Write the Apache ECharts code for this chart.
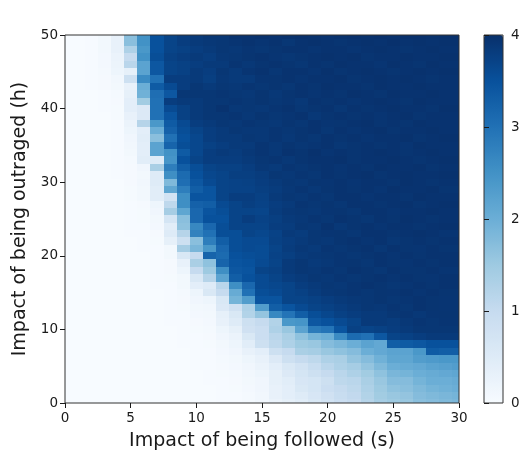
<!DOCTYPE html>
<html>
<head>
<meta charset="utf-8">
<style>html,body{margin:0;padding:0;background:#fff}#c{width:522px;height:452px}</style>
<script src="https://cdn.jsdelivr.net/npm/echarts@6/dist/echarts.min.js"></script>
</head>
<body>
<div id="c"></div>
<script>
// Estimated cell values; each list holds x = 0..30 for one h, from h = 50 down to h = 0.
const h50=[0,0,.02,.1,.3,1.7,2.5,3.5,3.7,3.8,3.85,3.9,3.9,3.95,3.95,3.97,3.95,3.97,3.98,3.97,3.95,3.97,3.98,3.97,3.98,3.97,3.98,3.98,3.97,3.98,3.98];
const h49=[0,0,.02,.1,.3,1.7,2.5,3.5,3.7,3.8,3.85,3.88,3.9,3.92,3.95,3.92,3.95,3.9,3.95,3.97,3.95,3.93,3.95,3.97,3.95,3.98,3.95,3.97,3.95,3.97,3.97];
const h48=[0,0,.02,.1,.3,1.3,2.4,3.5,3.7,3.75,3.8,3.85,3.9,3.88,3.92,3.9,3.93,3.95,3.95,3.92,3.95,3.95,3.92,3.95,3.97,3.95,3.93,3.95,3.97,3.95,3.95];
const h47=[0,0,.03,.08,.25,1,2.5,3.55,3.75,3.8,3.85,3.8,3.88,3.9,3.93,3.95,3.92,3.9,3.93,3.95,3.97,3.95,3.97,3.93,3.95,3.95,3.97,3.95,3.95,3.97,3.97];
const h46=[0,0,.03,.08,.22,1.15,2.2,3.4,3.7,3.75,3.8,3.85,3.85,3.92,3.88,3.93,3.95,3.93,3.9,3.95,3.93,3.97,3.95,3.95,3.92,3.97,3.95,3.93,3.97,3.95,3.95];
const h45=[0,0,.02,.06,.2,.35,2.2,3.4,3.7,3.75,3.85,3.8,3.9,3.85,3.92,3.95,3.9,3.95,3.95,3.92,3.97,3.93,3.95,3.97,3.95,3.93,3.95,3.97,3.95,3.97,3.97];
const h44=[0,0,.02,.05,.12,.85,2.6,3,3.8,3.8,3.85,3.78,3.88,3.85,3.85,3.92,3.93,3.95,3.92,3.95,3.95,3.97,3.93,3.95,3.97,3.95,3.97,3.95,3.93,3.95,3.95];
const h43=[0,0,.02,.05,.1,.3,2,3.35,3.6,3.8,3.9,3.85,3.9,3.88,3.92,3.9,3.93,3.9,3.95,3.93,3.97,3.95,3.95,3.93,3.97,3.95,3.95,3.97,3.95,3.95,3.95];
const h42=[0,0,.01,.03,.06,.35,1.95,3.05,3.4,3.9,3.9,3.9,3.92,3.9,3.88,3.93,3.88,3.93,3.95,3.92,3.95,3.93,3.97,3.95,3.93,3.97,3.95,3.95,3.97,3.95,3.95];
const h41=[0,0,.01,.02,.05,.4,1.45,3,3.8,3.85,3.85,3.9,3.9,3.92,3.9,3.93,3.9,3.92,3.88,3.95,3.93,3.95,3.92,3.95,3.97,3.95,3.93,3.97,3.95,3.95,3.95];
const h40=[0,0,.01,.02,.04,.4,.55,3,3.6,3.75,3.85,3.9,3.95,3.88,3.9,3.88,3.92,3.95,3.9,3.93,3.95,3.9,3.95,3.93,3.95,3.97,3.95,3.95,3.93,3.97,3.97];
const h39=[0,0,0,.01,.04,.3,.55,3,3.45,3.75,3.85,3.9,3.9,3.92,3.88,3.93,3.9,3.92,3.95,3.88,3.93,3.95,3.93,3.95,3.92,3.95,3.97,3.93,3.95,3.95,3.95];
const h38=[0,0,0,.01,.03,.25,1.2,2.4,3.35,3.6,3.8,3.85,3.9,3.88,3.92,3.9,3.88,3.93,3.9,3.95,3.92,3.93,3.95,3.97,3.93,3.95,3.93,3.97,3.95,3.95,3.95];
const h37=[0,0,0,.01,.03,.2,.4,2,3.25,3.55,3.7,3.8,3.85,3.9,3.88,3.88,3.92,3.9,3.93,3.95,3.9,3.95,3.92,3.95,3.97,3.93,3.95,3.95,3.97,3.95,3.95];
const h36=[0,0,0,.01,.03,.15,.45,1.7,3,3.5,3.65,3.8,3.85,3.85,3.9,3.88,3.92,3.88,3.93,3.9,3.95,3.93,3.95,3.92,3.95,3.95,3.97,3.93,3.95,3.97,3.97];
const h35=[0,0,0,0,.02,.12,.4,2.2,3.2,3.55,3.65,3.75,3.8,3.85,3.85,3.92,3.88,3.93,3.9,3.92,3.95,3.9,3.93,3.95,3.93,3.95,3.92,3.97,3.95,3.95,3.95];
const h34=[0,0,0,0,.02,.1,.4,2.2,2.5,3.35,3.65,3.8,3.85,3.82,3.88,3.92,3.88,3.95,3.93,3.97,3.92,3.95,3.93,3.95,3.97,3.95,3.93,3.95,3.97,3.95,3.95];
const h33=[0,0,0,0,.02,.06,.45,.5,2.45,3.5,3.7,3.8,3.8,3.8,3.85,3.9,3.92,3.88,3.93,3.95,3.95,3.97,3.93,3.95,3.95,3.97,3.95,3.93,3.95,3.97,3.97];
const h32=[0,0,0,0,.02,.05,.15,1.35,2.8,3.3,3.55,3.7,3.75,3.75,3.8,3.88,3.85,3.92,3.9,3.93,3.95,3.92,3.95,3.93,3.97,3.95,3.95,3.97,3.93,3.95,3.95];
const h31=[0,0,0,0,.02,.05,.1,.5,2.55,3.1,3.5,3.65,3.7,3.78,3.78,3.82,3.9,3.88,3.92,3.9,3.95,3.93,3.95,3.97,3.93,3.95,3.97,3.95,3.95,3.97,3.97];
const h30=[0,0,0,0,.01,.05,.12,.5,1.8,3.05,3.4,3.6,3.7,3.72,3.75,3.8,3.85,3.9,3.88,3.93,3.92,3.95,3.92,3.95,3.95,3.93,3.97,3.95,3.93,3.95,3.95];
const h29=[0,0,0,0,.01,.04,.1,.45,2.15,2.8,3.3,3.45,3.7,3.72,3.72,3.78,3.82,3.88,3.92,3.88,3.93,3.95,3.93,3.95,3.92,3.97,3.95,3.95,3.97,3.93,3.93];
const h28=[0,0,0,0,.01,.04,.1,.45,.75,2.55,3.45,3.45,3.7,3.8,3.8,3.75,3.85,3.9,3.88,3.92,3.9,3.95,3.95,3.92,3.95,3.95,3.93,3.97,3.95,3.95,3.95];
const h27=[0,0,0,0,.01,.03,.05,.2,1.1,2.55,3.25,3.3,3.6,3.7,3.78,3.72,3.8,3.85,3.92,3.9,3.93,3.9,3.95,3.95,3.93,3.95,3.97,3.93,3.95,3.97,3.97];
const h26=[0,0,0,0,0,.03,.04,.15,1.4,2.15,3.15,3.45,3.55,3.7,3.7,3.68,3.82,3.88,3.9,3.88,3.92,3.93,3.9,3.95,3.95,3.92,3.95,3.95,3.97,3.95,3.95];
const h25=[0,0,0,0,0,.02,.04,.1,.7,1.7,3.15,3.5,3.5,3.7,3.8,3.72,3.78,3.85,3.88,3.92,3.9,3.95,3.93,3.9,3.95,3.93,3.97,3.95,3.93,3.95,3.95];
const h24=[0,0,0,0,0,.02,.03,.08,.45,1.65,2.65,3.15,3.55,3.7,3.7,3.7,3.8,3.82,3.9,3.88,3.95,3.88,3.93,3.95,3.92,3.95,3.95,3.93,3.95,3.97,3.97];
const h23=[0,0,0,0,0,.02,.03,.05,.5,1.2,2.75,3,3.55,3.55,3.7,3.65,3.72,3.85,3.82,3.9,3.92,3.93,3.9,3.95,3.95,3.93,3.95,3.97,3.95,3.92,3.92];
const h22=[0,0,0,0,0,.01,.02,.04,.35,.85,1.7,2.8,3.3,3.55,3.6,3.6,3.75,3.8,3.85,3.9,3.88,3.93,3.95,3.92,3.95,3.9,3.93,3.95,3.93,3.95,3.95];
const h21=[0,0,0,0,0,.01,.02,.03,.1,1.4,1.85,2.4,3.15,3.55,3.6,3.58,3.7,3.82,3.88,3.85,3.92,3.9,3.93,3.95,3.9,3.95,3.93,3.92,3.95,3.93,3.93];
const h20=[0,0,0,0,0,0,.01,.03,.1,.6,1,3.2,3.1,3.5,3.55,3.58,3.72,3.78,3.85,3.88,3.9,3.92,3.9,3.93,3.95,3.92,3.95,3.93,3.95,3.95,3.95];
const h19=[0,0,0,0,0,0,.01,.02,.05,.3,1.35,1.65,3.2,3.45,3.5,3.6,3.7,3.85,3.9,3.85,3.88,3.92,3.93,3.9,3.95,3.93,3.92,3.95,3.93,3.95,3.95];
const h18=[0,0,0,0,0,0,.01,.02,.05,.2,1,1.5,2.55,3.4,3.45,3.7,3.75,3.85,3.9,3.88,3.92,3.9,3.95,3.93,3.9,3.95,3.93,3.93,3.95,3.92,3.92];
const h17=[0,0,0,0,0,0,.01,.02,.04,.1,.6,1.2,2.2,3.3,3.5,3.6,3.7,3.8,3.85,3.9,3.88,3.92,3.9,3.93,3.95,3.92,3.95,3.93,3.92,3.95,3.95];
const h16=[0,0,0,0,0,0,.01,.02,.03,.1,.4,.5,1.15,2.55,3.15,3.6,3.65,3.7,3.8,3.85,3.9,3.88,3.92,3.95,3.93,3.9,3.92,3.95,3.93,3.95,3.95];
const h15=[0,0,0,0,0,0,0,.01,.03,.06,.2,.6,1,2.05,3,3.55,3.6,3.7,3.75,3.82,3.88,3.9,3.92,3.9,3.93,3.92,3.95,3.92,3.95,3.93,3.93];
const h14=[0,0,0,0,0,0,0,.01,.02,.05,.15,.2,.6,1.9,2.3,3.45,3.45,3.7,3.7,3.75,3.8,3.85,3.88,3.9,3.93,3.9,3.92,3.95,3.93,3.92,3.92];
const h13=[0,0,0,0,0,0,0,.01,.02,.04,.1,.12,.55,.8,1.3,2.3,3.3,3.45,3.6,3.7,3.75,3.8,3.85,3.9,3.88,3.92,3.9,3.95,3.93,3.92,3.92];
const h12=[0,0,0,0,0,0,0,.01,.02,.03,.08,.1,.35,.6,1.25,1.6,2.65,2.95,3.3,3.55,3.65,3.75,3.8,3.85,3.85,3.9,3.92,3.88,3.92,3.93,3.93];
const h11=[0,0,0,0,0,0,0,.01,.02,.03,.05,.08,.3,.5,.85,1,1.25,2.4,2.45,3.4,3.5,3.6,3.7,3.85,3.85,3.82,3.88,3.92,3.9,3.92,3.92];
const h10=[0,0,0,0,0,0,0,.01,.01,.02,.04,.06,.2,.35,.8,.9,1.3,1.55,2.2,2.85,2.95,3.45,3.75,3.7,3.75,3.8,3.85,3.9,3.9,3.9,3.9];
const h9=[0,0,0,0,0,0,0,0,.01,.02,.03,.05,.15,.25,.6,.9,1.15,1.35,1.65,1.9,2,2.6,3.1,3,3.4,3.7,3.75,3.8,3.85,3.85,3.85];
const h8=[0,0,0,0,0,0,0,0,.01,.02,.03,.04,.1,.2,.45,.85,1.1,1.3,1.5,1.55,1.75,1.85,2,2.2,2.1,3.3,3.35,3.4,3.5,3.5,3.5];
const h7=[0,0,0,0,0,0,0,0,.01,.01,.02,.03,.08,.15,.3,.4,.85,1,1.35,1.4,1.55,1.65,1.75,2,2.1,2.2,2.2,2.4,3.35,3.3,3.3];
const h6=[0,0,0,0,0,0,0,0,.01,.01,.02,.03,.06,.1,.2,.3,.55,.85,1,1.1,1.3,1.35,1.6,1.75,1.95,2.15,2.15,2.3,2.35,2.4,2.4];
const h5=[0,0,0,0,0,0,0,0,0,.01,.02,.02,.05,.08,.15,.25,.4,.6,.75,.95,1.15,1.3,1.4,1.6,1.8,2,2.05,2.1,2.2,2.25,2.3];
const h4=[0,0,0,0,0,0,0,0,0,.01,.01,.02,.04,.06,.12,.2,.35,.55,.7,.85,1,1.15,1.3,1.45,1.65,1.85,1.9,2,2.05,2.1,2.15];
const h3=[0,0,0,0,0,0,0,0,0,.01,.01,.02,.03,.05,.1,.15,.35,.45,.65,.7,.85,1.1,1.15,1.35,1.55,1.75,1.75,1.9,2,2,2.05];
const h2=[0,0,0,0,0,0,0,0,0,0,.01,.01,.03,.04,.08,.15,.3,.4,.6,.7,.9,1,1.1,1.3,1.5,1.65,1.7,1.8,1.9,1.95,2];
const h1=[0,0,0,0,0,0,0,0,0,0,.01,.01,.02,.03,.06,.12,.3,.4,.5,.65,.8,.95,1.05,1.25,1.45,1.55,1.6,1.75,1.8,1.85,1.9];
const h0=[0,0,0,0,0,0,0,0,0,0,.01,.01,.02,.03,.06,.12,.25,.35,.45,.6,.75,.9,1,1.2,1.4,1.5,1.55,1.7,1.75,1.8,1.85];
const rows=[h50,h49,h48,h47,h46,h45,h44,h43,h42,h41,h40,h39,h38,h37,h36,h35,h34,h33,h32,h31,h30,h29,h28,h27,h26,h25,h24,h23,h22,h21,h20,h19,h18,h17,h16,h15,h14,h13,h12,h11,h10,h9,h8,h7,h6,h5,h4,h3,h2,h1,h0];
const blues=['#f7fbff','#deebf7','#c6dbef','#9ecae1','#6baed6','#4292c6','#2171b5','#08519c','#08306b'];
const xLabel='Impact of being followed (s)';
const yLabel='Impact of being outraged (h)';

const cells=[];
rows.forEach((row,i)=>row.forEach((v,x)=>cells.push([x,50-i,v])));

const FONT='"DejaVu Sans"';
const INK='#1a1a1a';
const tick={show:true,length:5,lineStyle:{color:INK,width:1}};
const line={show:false};
const chart=echarts.init(document.getElementById('c'),null,{renderer:'canvas'});
chart.setOption({
  animation:false,
  backgroundColor:'#fff',
  grid:[
    {left:65,right:63,top:35,bottom:49,show:true,z:6,outerBoundsMode:'none',backgroundColor:'transparent',borderColor:'#333',borderWidth:1},
    {left:484,width:19,top:35,bottom:49,show:true,z:6,outerBoundsMode:'none',backgroundColor:'transparent',borderColor:'#333',borderWidth:1}
  ],
  xAxis:[
    {gridIndex:0,type:'value',min:0,max:30,interval:5,z:6,axisLine:line,axisTick:tick,splitLine:{show:false},
     axisLabel:{fontFamily:FONT,fontSize:13.5,color:INK,margin:8},
     name:xLabel,nameLocation:'middle',nameGap:29,nameTextStyle:{fontFamily:FONT,fontSize:19,color:INK}},
    {gridIndex:1,type:'value',min:0,max:1,show:false}
  ],
  yAxis:[
    {gridIndex:0,type:'value',min:0,max:50,interval:10,z:6,axisLine:line,axisTick:tick,splitLine:{show:false},
     axisLabel:{fontFamily:FONT,fontSize:13.5,color:INK,margin:7},
     name:yLabel,nameLocation:'middle',nameGap:35,nameRotate:90,nameTextStyle:{fontFamily:FONT,fontSize:19,color:INK}},
    {gridIndex:1,type:'value',position:'right',min:0,max:4,interval:1,z:6,axisLine:line,axisTick:tick,splitLine:{show:false},
     axisLabel:{fontFamily:FONT,fontSize:13.5,color:INK,margin:8}}
  ],
  visualMap:{type:'continuous',seriesIndex:0,dimension:2,min:0,max:4,calculable:false,realtime:false,hoverLink:false,
    left:484,top:35,padding:0,itemWidth:19,itemHeight:368,text:null,inRange:{color:blues},z:3},
  series:[{
    type:'custom',coordinateSystem:'cartesian2d',xAxisIndex:0,yAxisIndex:0,z:2,progressive:0,silent:true,
    encode:{x:0,y:1},data:cells,
    renderItem(params,api){
      const x=api.value(0),y=api.value(1);
      const a=api.coord([x-.5,y+.5]),b=api.coord([x+.5,y-.5]);
      const x0=Math.round(a[0]),y0=Math.round(a[1]),x1=Math.round(b[0]),y1=Math.round(b[1]);
      const shape=echarts.graphic.clipRectByRect({x:x0,y:y0,width:x1-x0,height:y1-y0},params.coordSys);
      return shape&&{type:'rect',shape,style:{fill:api.visual('color')}};
    }
  }]
});
</script>
</body>
</html>
